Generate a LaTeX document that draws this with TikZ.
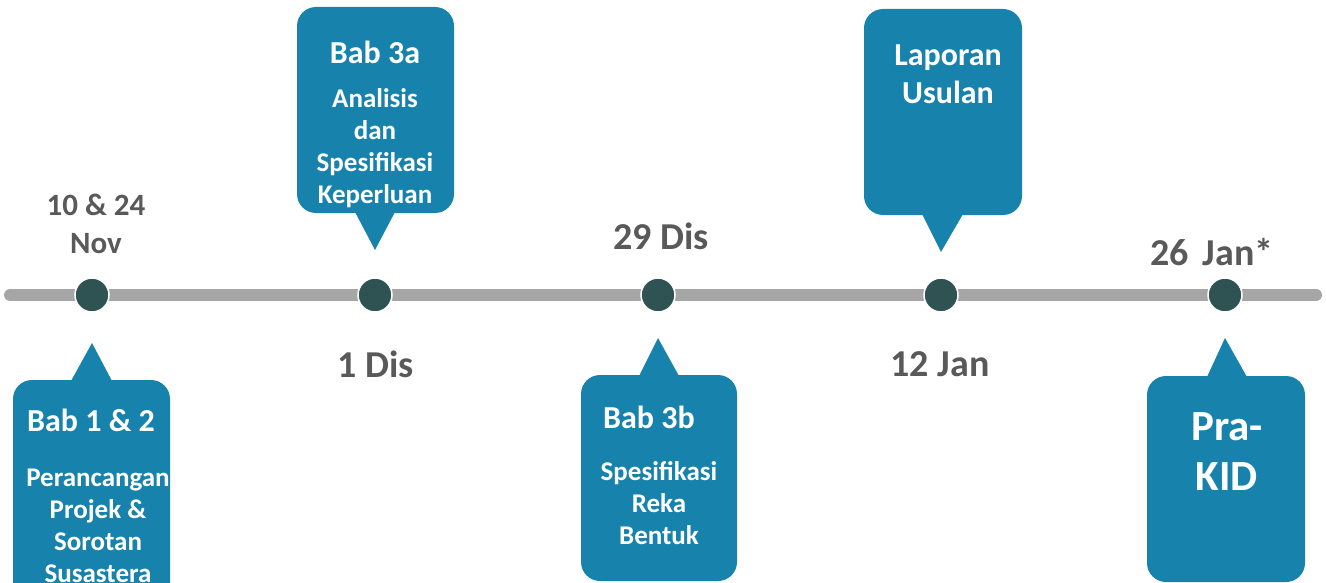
\documentclass[tikz,border=0pt]{standalone}
\usepackage{fontspec}
\setmainfont{Carlito}

\definecolor{tlgrey}{HTML}{A6A6A6}
\definecolor{tldark}{HTML}{2F5252}
\definecolor{tlblue}{HTML}{1783AD}
\definecolor{tltext}{HTML}{595959}

\tikzset{
	tlbar/.style={line width=12, line cap=round, draw=tlgrey},
	tldot/.style={circle, fill=tldark, draw=white, line width=1.5, minimum size=34, inner sep=0},
	bubble/.style={fill=tlblue, rounded corners=19},
	datelbl/.style={text=tltext, align=center, inner sep=0, font=\fontsize{38}{42}\selectfont\bfseries},
	babtitle/.style={text=white, inner sep=0, font=\fontsize{32}{36}\selectfont\bfseries},
	babbody/.style={text=white, align=center, inner sep=0, font=\fontsize{27}{32}\selectfont\bfseries},
}

\begin{document}
\begin{tikzpicture}[x=1pt,y=-1pt]
	\useasboundingbox (0,0) rectangle (1326,583);
	% the time line and its five dates
	\coordinate (L) at (10,295);
	\coordinate (R) at (1316,295);
	\draw[tlbar] (L) -- (R);
	\node[tldot] (D1) at (92,295) {};
	\node[tldot] (D2) at (375,295) {};
	\node[tldot] (D3) at (658,295) {};
	\node[tldot] (D4) at (941,295) {};
	\node[tldot] (D5) at (1225,295) {};
	% callouts
	\fill[bubble] (13,380) rectangle (170,620);
	\fill[tlblue] (92,343) -- (71,381) -- (112,381) -- cycle;
	\fill[bubble] (297,7) rectangle (454,213);
	\fill[tlblue] (375,250) -- (355,212) -- (395,212) -- cycle;
	\fill[bubble] (581,375) rectangle (737,581);
	\fill[tlblue] (658,338) -- (639,376) -- (679,376) -- cycle;
	\fill[bubble] (864,9) rectangle (1022,215);
	\fill[tlblue] (941,252) -- (922,214) -- (963,214) -- cycle;
	\fill[bubble] (1147,376) rectangle (1305,582);
	\fill[tlblue] (1225,338) -- (1207,377) -- (1247,377) -- cycle;
	% texts in the callouts
	\node[babtitle] (T1) at (91,420) {Bab 1 \& 2};
	\node[babbody] (B1) at (98,526) {Perancangan\\Projek \&\\Sorotan\\Susastera};
	\node[babtitle] (T2) at (375,52) {Bab 3a};
	\node[babbody] (B2) at (375,148) {Analisis\\dan\\Spesifikasi\\Keperluan};
	\node[babtitle] (T3) at (649,417) {Bab 3b};
	\node[babbody] (B3) at (659,503) {Spesifikasi\\Reka\\Bentuk};
	\node[babbody, font=\fontsize{32}{38}\selectfont\bfseries] (T4) at (948,74) {Laporan\\Usulan};
	\node[babbody, font=\fontsize{43}{50}\selectfont\bfseries] (T5) at (1227,452) {Pra-\\KID};
	% dates
	\node[datelbl, font=\fontsize{31}{38}\selectfont\bfseries] (N1) at (96,224) {10 \& 24\\Nov};
	\node[datelbl] (N2) at (376,364) {1 Dis};
	\node[datelbl] (N3) at (661,236) {29 Dis};
	\node[datelbl] (N4) at (940,364) {12 Jan};
	\node[datelbl] (N5) at (1212,252) {26\hspace{5pt} Jan*};
\end{tikzpicture}
\end{document}
